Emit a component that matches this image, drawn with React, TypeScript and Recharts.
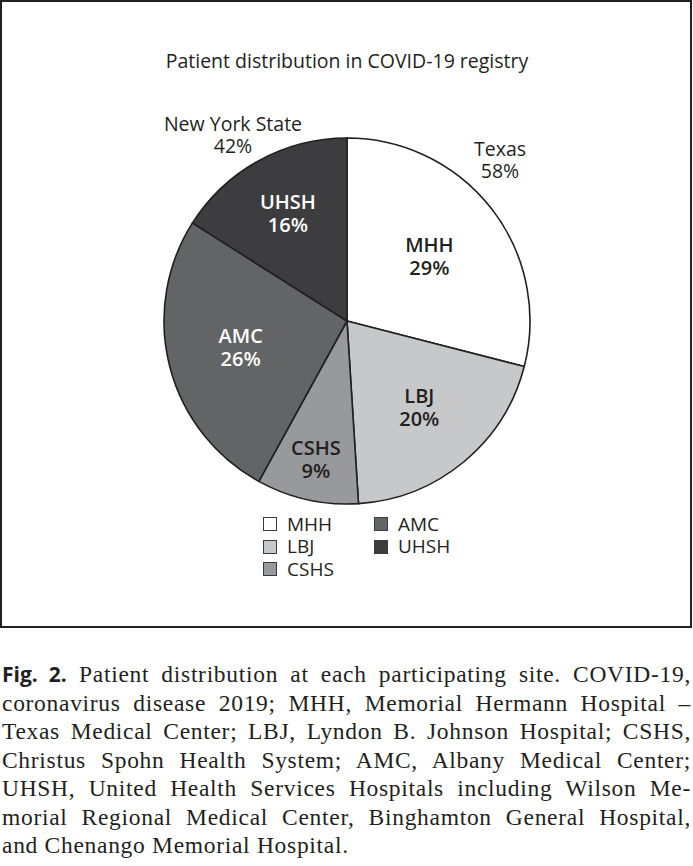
import React from 'react';
import { PieChart, Pie, Cell, Legend, Customized } from 'recharts';

const categories = ['MHH', 'LBJ', 'CSHS', 'AMC', 'UHSH'];
const shares = [29, 20, 9, 26, 16];
const regions = ['Texas', 'New York State'];
const regionShares = [58, 42];
const title = 'Patient distribution in COVID-19 registry';

const fills = ['#ffffff', '#c7c8ca', '#98999c', '#636466', '#3d3d3f'];
const labelColors = ['#231f20', '#231f20', '#231f20', '#ffffff', '#ffffff'];
const labelRadius: Record<string, number> = { MHH: 0.57, LBJ: 0.62, CSHS: 0.78, AMC: 0.6, UHSH: 0.67 };

const data = categories.map((name, i) => ({ name, value: shares[i] }));

const SANS = '"Open Sans", "Noto Sans", sans-serif';
const SERIF = '"Liberation Serif", "DejaVu Serif", serif';
const INK = '#231f20';

const CX = 345;
const CY = 319;
const R = 183;

const RAD = Math.PI / 180;

const renderLabel = (props: any) => {
  const { cx, cy, midAngle, outerRadius, index } = props;
  const name = categories[index];
  const r = outerRadius * (labelRadius[name] ?? 0.6);
  const x = cx + r * Math.cos(-midAngle * RAD);
  const y = cy + r * Math.sin(-midAngle * RAD);
  return (
    <text
      x={x}
      y={y}
      textAnchor="middle"
      fill={labelColors[index]}
      fontFamily={SANS}
      fontSize={20}
      fontWeight={600}
    >
      <tspan x={x} y={y - 5}>{name}</tspan>
      <tspan x={x} y={y + 18}>{shares[index]}%</tspan>
    </text>
  );
};

const Annotations = () => (
  <g fontFamily={SANS} fill={INK} fontSize={19.5}>
    <text x={345} y={66} textAnchor="middle">{title}</text>
    <text x={231} y={129} textAnchor="middle">{regions[1]}</text>
    <text x={231} y={151} textAnchor="middle">{regionShares[1]}%</text>
    <text x={498} y={154} textAnchor="middle">{regions[0]}</text>
    <text x={498} y={176} textAnchor="middle">{regionShares[0]}%</text>
  </g>
);

const renderLegend = () => {
  return (
    <div
      style={{
        display: 'grid',
        gridTemplateRows: 'repeat(3, 22.5px)',
        gridAutoFlow: 'column',
        gridTemplateColumns: '111px 110px',
        fontFamily: SANS,
        fontSize: 19,
        color: INK,
      }}
    >
      {categories.map((c, i) => (
        <div key={c} style={{ display: 'flex', alignItems: 'center', height: 22.5 }}>
          <span
            style={{
              display: 'inline-block',
              width: 14,
              height: 14,
              flex: '0 0 14px',
              boxSizing: 'border-box',
              border: '1px solid #3a3a3c',
              background: fills[i],
              marginRight: 10,
            }}
          />
          <span style={{ lineHeight: '19px' }}>{c}</span>
        </div>
      ))}
    </div>
  );
};

const captionLines: React.ReactNode[] = [
  <>
    <span style={{ fontFamily: SANS, fontWeight: 700, fontSize: 21, letterSpacing: 0 }}>Fig. 2.</span> Patient distribution at each participating site. COVID-19,
  </>,
  'coronavirus disease 2019; MHH, Memorial Hermann Hospital –',
  'Texas Medical Center; LBJ, Lyndon B. Johnson Hospital; CSHS,',
  'Christus Spohn Health System; AMC, Albany Medical Center;',
  'UHSH, United Health Services Hospitals including Wilson Me-',
  'morial Regional Medical Center, Binghamton General Hospital,',
  'and Chenango Memorial Hospital.',
];

export default function App() {
  return (
    <div style={{ position: 'absolute', left: 0, top: 0, width: 693, height: 866, background: '#fff' }}>
      <div
        style={{
          position: 'absolute',
          left: 0,
          top: 0,
          width: 692,
          height: 628,
          boxSizing: 'border-box',
          border: '2px solid #231f20',
        }}
      >
        <PieChart width={688} height={624} margin={{ top: 0, right: 0, bottom: 0, left: 0 }}>
          <Pie
            data={data}
            dataKey="value"
            nameKey="name"
            cx={CX}
            cy={CY}
            outerRadius={R}
            startAngle={90}
            endAngle={-270}
            stroke={INK}
            strokeWidth={1.6}
            label={renderLabel}
            labelLine={false}
            isAnimationActive={false}
          >
            {data.map((d, i) => (
              <Cell key={d.name} fill={fills[i]} />
            ))}
          </Pie>
          <Legend
            content={renderLegend}
            wrapperStyle={{ position: 'absolute', left: 261, top: 511, width: 240, bottom: 'auto' }}
          />
          <Customized component={Annotations} />
        </PieChart>
      </div>
      <div
        style={{
          position: 'absolute',
          left: 2,
          top: 660,
          width: 689,
          fontFamily: SERIF,
          fontSize: 23.5,
          letterSpacing: 0.7,
          lineHeight: '28.5px',
          color: INK,
        }}
      >
        {captionLines.map((l, i) => (
          <div
            key={i}
            style={{
              textAlign: 'justify',
              textAlignLast: i === captionLines.length - 1 ? 'left' : 'justify',
              whiteSpace: 'nowrap',
            }}
          >
            {l}
          </div>
        ))}
      </div>
    </div>
  );
}
